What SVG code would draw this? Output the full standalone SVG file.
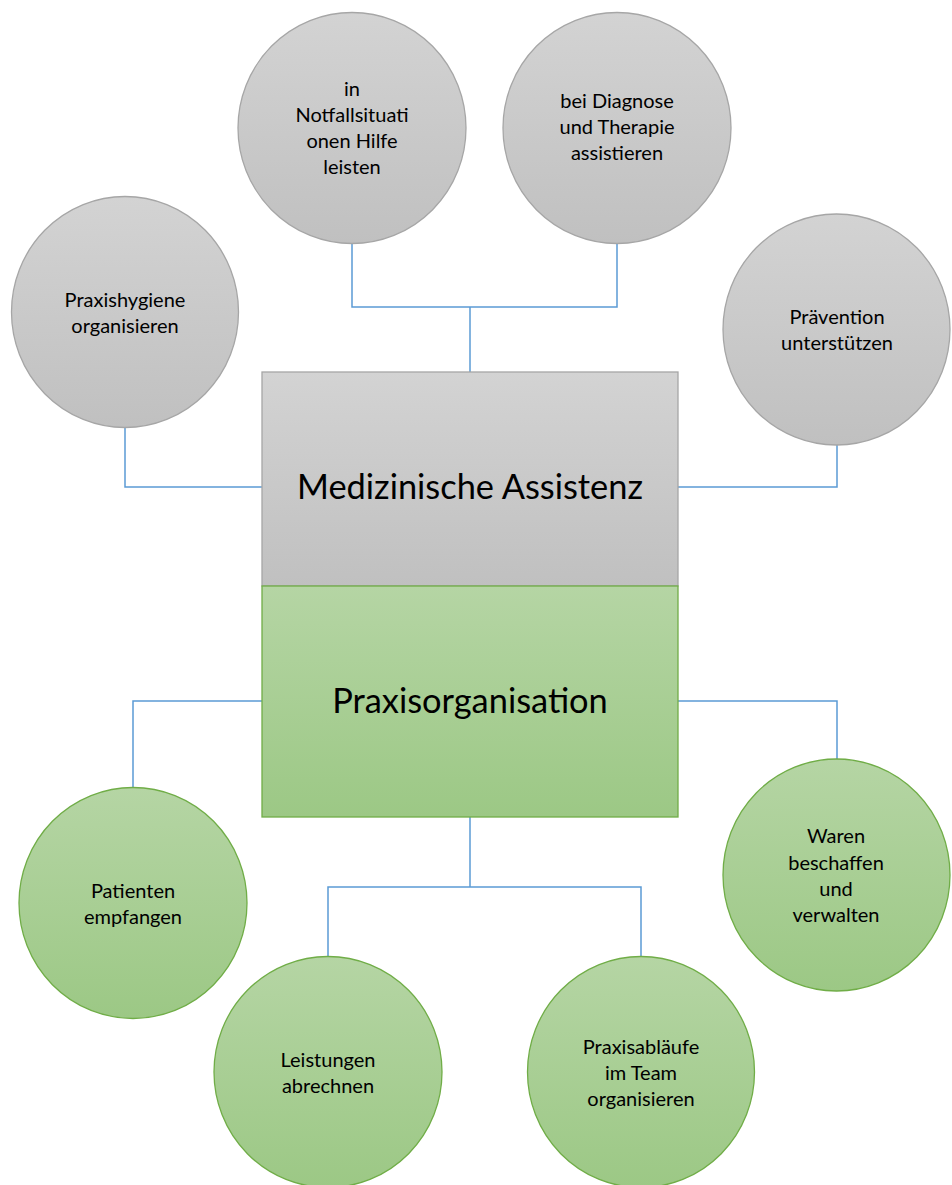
<svg xmlns="http://www.w3.org/2000/svg" width="952" height="1185" viewBox="0 0 952 1185">
<defs>
<linearGradient id="gGray" x1="0" y1="0" x2="0" y2="1">
<stop offset="0" stop-color="#d3d3d3"/>
<stop offset="1" stop-color="#c0c0c0"/>
</linearGradient>
<linearGradient id="gGreen" x1="0" y1="0" x2="0" y2="1">
<stop offset="0" stop-color="#b5d5a4"/>
<stop offset="1" stop-color="#9cc885"/>
</linearGradient>
<style>
.gray{fill:url(#gGray);stroke:#a6a6a6;stroke-width:1.3}
.green{fill:url(#gGreen);stroke:#70ad47;stroke-width:1.3}
.conn{fill:none;stroke:#5b9bd5;stroke-width:1.5}
.lbl{font-family:Lato,"Liberation Sans",sans-serif;font-size:20px;fill:#000;text-anchor:middle}
.big{font-family:Lato,"Liberation Sans",sans-serif;font-size:34.4px;fill:#000;text-anchor:middle}
</style>
</defs>
<rect width="952" height="1185" fill="#fff"/>
<g id="connectors">
<polyline class="conn" points="352,243 352,307 617,307 617,243"/>
<line class="conn" x1="470" y1="307" x2="470" y2="372"/>
<polyline class="conn" points="125,428 125,487 262,487"/>
<polyline class="conn" points="837,445 837,487 678,487"/>
<polyline class="conn" points="262,701 133,701 133,788"/>
<polyline class="conn" points="678,701 837,701 837,759"/>
<line class="conn" x1="470" y1="817" x2="470" y2="887"/>
<polyline class="conn" points="328,957 328,887 641,887 641,957"/>
</g>
<g id="n-notfall">
<ellipse class="gray" cx="352" cy="128" rx="114" ry="115.5"/>
<text class="lbl"><tspan x="352" y="96">in</tspan><tspan x="352" y="122">Notfallsituati</tspan><tspan x="352" y="148">onen Hilfe</tspan><tspan x="352" y="174">leisten</tspan></text>
</g>
<g id="n-diagnose">
<ellipse class="gray" cx="617" cy="128" rx="114" ry="115.5"/>
<text class="lbl"><tspan x="617" y="108">bei Diagnose</tspan><tspan x="617" y="134">und Therapie</tspan><tspan x="617" y="160">assistieren</tspan></text>
</g>
<g id="n-hygiene">
<ellipse class="gray" cx="125" cy="312" rx="113.5" ry="115.5"/>
<text class="lbl"><tspan x="125" y="307">Praxishygiene</tspan><tspan x="125" y="333">organisieren</tspan></text>
</g>
<g id="n-praevention">
<ellipse class="gray" cx="836.5" cy="329.5" rx="113.5" ry="115.5"/>
<text class="lbl"><tspan x="837" y="324">Prävention</tspan><tspan x="837" y="350">unterstützen</tspan></text>
</g>
<g id="n-medizin">
<rect class="gray" x="262" y="372" width="416" height="214"/>
<text class="big" x="470" y="499">Medizinische Assistenz</text>
</g>
<g id="n-praxisorg">
<rect class="green" x="262" y="586" width="416" height="231"/>
<text class="big" x="470" y="713">Praxisorganisation</text>
</g>
<g id="n-patienten">
<ellipse class="green" cx="133" cy="903" rx="114" ry="115.5"/>
<text class="lbl"><tspan x="133" y="898">Patienten</tspan><tspan x="133" y="924">empfangen</tspan></text>
</g>
<g id="n-waren">
<ellipse class="green" cx="836.5" cy="875" rx="113.5" ry="116"/>
<text class="lbl"><tspan x="836" y="843">Waren</tspan><tspan x="836" y="870">beschaffen</tspan><tspan x="836" y="896">und</tspan><tspan x="836" y="922">verwalten</tspan></text>
</g>
<g id="n-leistungen">
<ellipse class="green" cx="328" cy="1072" rx="114" ry="115.5"/>
<text class="lbl"><tspan x="328" y="1067">Leistungen</tspan><tspan x="328" y="1093">abrechnen</tspan></text>
</g>
<g id="n-ablaeufe">
<ellipse class="green" cx="641" cy="1072" rx="113.5" ry="115.5"/>
<text class="lbl"><tspan x="641" y="1054">Praxisabläufe</tspan><tspan x="641" y="1080">im Team</tspan><tspan x="641" y="1106">organisieren</tspan></text>
</g>
</svg>
